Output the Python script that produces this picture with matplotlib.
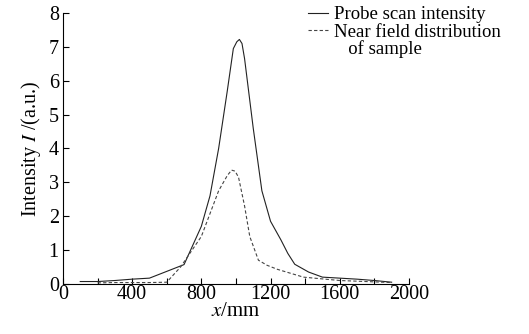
import matplotlib
matplotlib.use('Agg')
import matplotlib.pyplot as plt
from matplotlib.lines import Line2D
from matplotlib.ticker import MultipleLocator

plt.rcParams['font.family'] = 'Liberation Serif'
plt.rcParams['mathtext.fontset'] = 'stix'

# probe scan intensity (solid)
x_probe = [100, 200, 300, 400, 500, 600, 700, 800, 850, 900, 950, 985, 1005, 1020,
           1035, 1050, 1100, 1150, 1200, 1260, 1300, 1340, 1420, 1500, 1600, 1700, 1800, 1900]
y_probe = [0.07, 0.07, 0.1, 0.14, 0.17, 0.37, 0.57, 1.7, 2.6, 4.0, 5.7, 6.95, 7.15, 7.22,
           7.1, 6.65, 4.6, 2.75, 1.85, 1.3, 0.9, 0.58, 0.35, 0.2, 0.17, 0.14, 0.1, 0.05]

# near field distribution of sample (dashed)
x_near = [200, 300, 400, 500, 600, 680, 800, 900, 950, 975, 995, 1015, 1050, 1080,
          1130, 1180, 1240, 1390, 1600, 1800, 1900]
y_near = [0.03, 0.04, 0.04, 0.04, 0.05, 0.5, 1.4, 2.75, 3.2, 3.36, 3.33, 3.15, 2.3, 1.4,
          0.7, 0.55, 0.43, 0.2, 0.1, 0.06, 0.04]

fig = plt.figure(figsize=(5.29, 3.34), dpi=100)
ax = fig.add_axes([0.119, 0.150, 0.654, 0.811])

l1, = ax.plot(x_probe, y_probe, color='#222222', lw=0.8, ls='-')
l2, = ax.plot(x_near, y_near, color='#444444', lw=0.8, ls=(0, (3, 2)))

ax.set_xlim(0, 2000)
ax.set_ylim(0, 8)
ax.xaxis.set_major_locator(MultipleLocator(400))
ax.xaxis.set_minor_locator(MultipleLocator(200))
ax.yaxis.set_major_locator(MultipleLocator(1))
ax.tick_params(which='both', direction='in', length=4, width=0.8, labelsize=14.5)
ax.tick_params(axis='x', pad=1)
ax.tick_params(axis='y', pad=3)
ax.spines['top'].set_visible(False)
ax.spines['right'].set_visible(False)
for s in ['left', 'bottom']:
    ax.spines[s].set_linewidth(0.8)

ax.set_xlabel('$x$/mm', fontsize=15, labelpad=-2)
ax.set_ylabel('Intensity $I$ /(a.u.)', fontsize=14.5, labelpad=4)

blank = Line2D([], [], linestyle='none')
ax.legend([l1, l2, blank],
          ['Probe scan intensity', 'Near field distribution', '   of sample'],
          loc='upper left', bbox_to_anchor=(0.708, 1.025), frameon=False,
          fontsize=13.5, labelspacing=0.0, handlelength=1.05, handletextpad=0.35,
          borderpad=0, borderaxespad=0)

fig.savefig('out.png', dpi=100)
